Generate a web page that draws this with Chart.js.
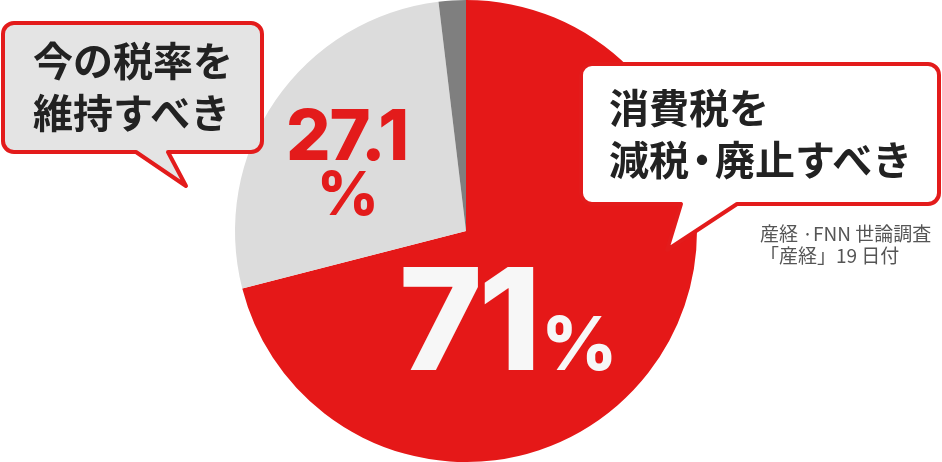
<!DOCTYPE html>
<html lang="ja">
<head>
  <meta charset="UTF-8">
  <title>消費税 世論調査</title>
  <script src="https://cdn.jsdelivr.net/npm/chart.js"></script>
  <style>
    body { margin: 0; background: #fff; }
    #wrap { position: relative; width: 942px; height: 462px; overflow: hidden; }
    #wrap canvas { position: absolute; left: 0; top: 0; }
    .txt { position: absolute; white-space: nowrap; font-family: "Noto Sans CJK JP", sans-serif; }
    .bubble { font-weight: 700; font-size: 40px; line-height: 52px; color: #222; }
    .src { font-size: 19px; line-height: 22px; color: #555; font-weight: 400; }
    .num { font-family: Inter, "Noto Sans", sans-serif; font-weight: 800; line-height: 1; }
    .dot { margin: 0 -7px; }
  </style>
</head>
<body>
  <div id="wrap">
    <canvas id="pie" width="942" height="462"></canvas>
  </div>

  <script>
    // 回答の内訳 (%)
    const labels = ['消費税を減税・廃止すべき', '今の税率を維持すべき', 'その他'];
    const values = [71, 27.1, 1.9];
    const colors = ['#e51818', '#dcdcdc', '#7f7f7f'];
    const bubbleLeft = ['今の税率を', '維持すべき'];
    const bubbleRight = ['消費税を', '減税・廃止すべき'];
    const source = ['産経 ·FNN 世論調査', '「産経」19 日付'];

    const RED = '#e31b1b';

    // 吹き出しの枠 (canvas)
    const bubble = (ctx, x, y, w, h, r, tail, fill) => {
      ctx.beginPath();
      ctx.moveTo(x + r, y);
      ctx.lineTo(x + w - r, y);
      ctx.arcTo(x + w, y, x + w, y + r, r);
      ctx.lineTo(x + w, y + h - r);
      ctx.arcTo(x + w, y + h, x + w - r, y + h, r);
      ctx.lineTo(tail[2], y + h);
      ctx.lineTo(tail[3], tail[4]);
      ctx.lineTo(tail[0], y + h);
      ctx.lineTo(x + r, y + h);
      ctx.arcTo(x, y + h, x, y + h - r, r);
      ctx.lineTo(x, y + r);
      ctx.arcTo(x, y, x + r, y, r);
      ctx.closePath();
      ctx.fillStyle = fill;
      ctx.fill();
      ctx.lineWidth = 4;
      ctx.strokeStyle = RED;
      ctx.lineJoin = 'round';
      ctx.stroke();
    };

    const bubbles = {
      id: 'bubbles',
      afterDraw(chart) {
        const ctx = chart.ctx;
        ctx.save();
        bubble(ctx, 3, 23, 259, 129, 11, [136, 0, 168, 186, 186], '#e4e4e4');
        bubble(ctx, 581, 64, 358, 140, 11, [681, 0, 737, 667, 250], '#ffffff');
        ctx.restore();
      }
    };

    new Chart(document.getElementById('pie'), {
      type: 'pie',
      data: {
        labels: labels,
        datasets: [{ data: values, backgroundColor: colors, borderWidth: 0 }]
      },
      options: {
        responsive: false,
        animation: false,
        rotation: 0,
        layout: { padding: { left: 0, right: 10, top: 0, bottom: 0 } },
        plugins: { legend: { display: false }, tooltip: { enabled: false } }
      },
      plugins: [bubbles]
    });

    // テキスト
    const wrap = document.getElementById('wrap');
    const addText = (html, cls, css) => {
      const d = document.createElement('div');
      d.className = 'txt ' + cls;
      d.innerHTML = html;
      Object.assign(d.style, css);
      wrap.appendChild(d);
      return d;
    };

    addText(bubbleLeft.join('<br>'), 'bubble', { left: '33px', top: '33px' });
    addText(bubbleRight.join('<br>').replace('・', '<span class="dot">・</span>'), 'bubble', { left: '609px', top: '80px' });
    addText(source.join('<br>'), 'src', { left: '760px', top: '222px' });

    addText(String(values[1]), 'num', {
      left: '347px', top: '100px', transform: 'translateX(-50%)',
      color: RED, fontSize: '70px', letterSpacing: '-1px'
    });
    addText('%', 'num', {
      left: '348px', top: '163px', transform: 'translateX(-50%)',
      color: RED, fontSize: '60px'
    });
    addText(values[0] + '<span style="font-size:74px;letter-spacing:0;margin-left:4px">%</span>', 'num', {
      left: '399px', top: '247px', color: '#f7f7f7', fontSize: '142px', letterSpacing: '-4px'
    });
  </script>
</body>
</html>
